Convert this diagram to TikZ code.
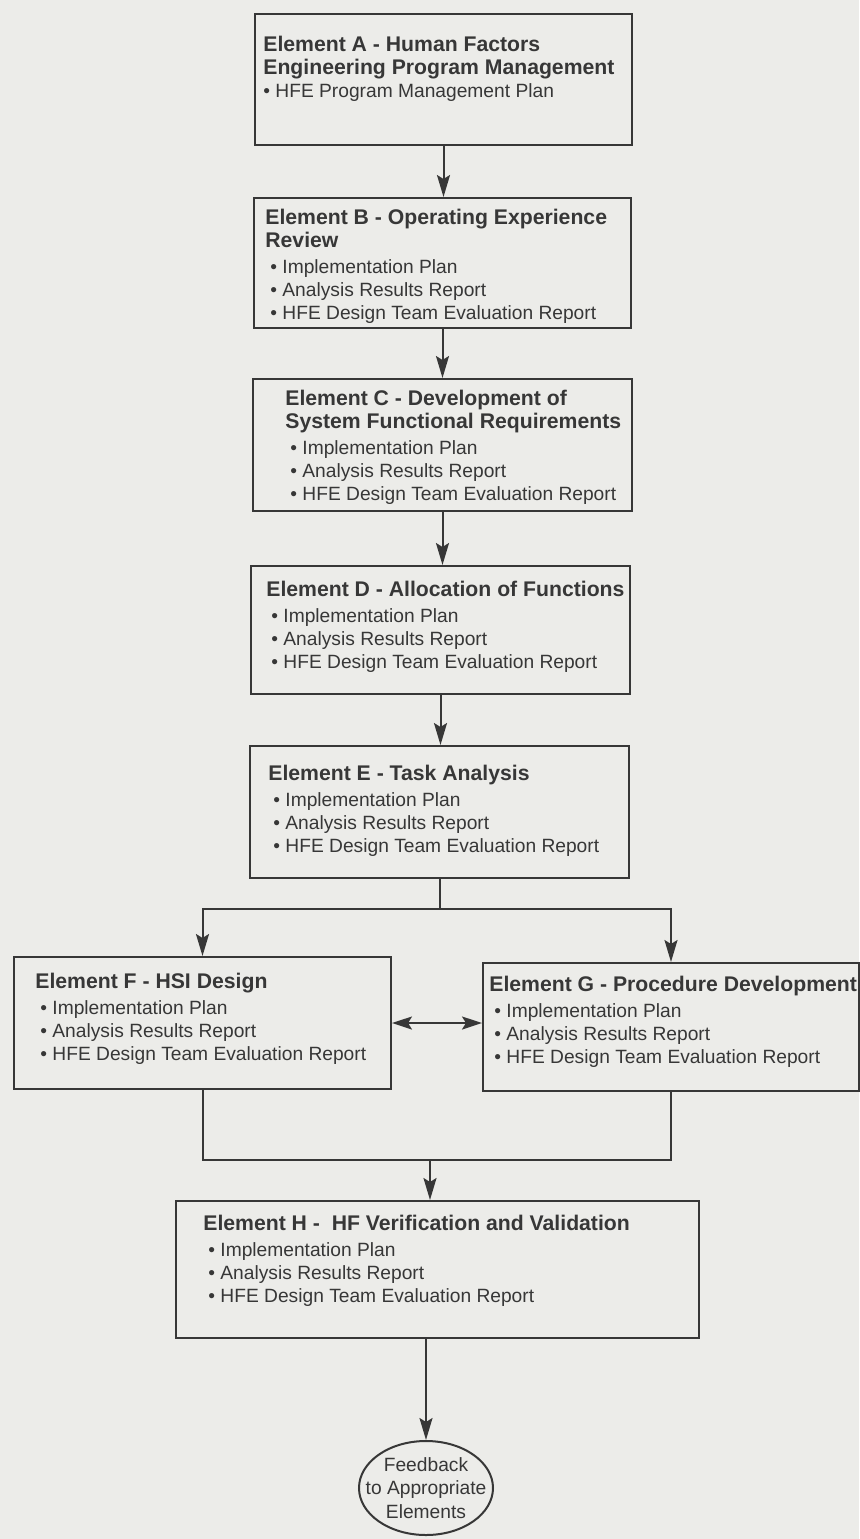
\documentclass[tikz,border=0pt]{standalone}
\usepackage{fontspec}
\setmainfont{Liberation Sans}
\usetikzlibrary{arrows.meta,shapes.geometric}
\definecolor{scan}{RGB}{236,236,233}
\definecolor{ink}{RGB}{55,55,55}
\tikzset{
  box/.style={draw=ink, line width=1pt, anchor=north west, inner sep=0pt},
  txt/.style={anchor=north west, align=left, inner sep=0pt, text=ink, font=\fontsize{9.6}{11.5}\selectfont},
  line/.style={draw=ink, line width=1pt},
  arr/.style={line, -{Stealth[length=11pt,width=6.5pt,inset=2pt]}},
  dbl/.style={line, {Stealth[length=10pt,width=6.5pt,inset=2pt]}-{Stealth[length=10pt,width=6.5pt,inset=2pt]}},
  fback/.style={ellipse, draw=ink, line width=1pt, text=ink, align=center, minimum width=67pt, minimum height=47pt, inner xsep=-12pt, inner ysep=-4pt, font=\fontsize{9.6}{11.75}\selectfont}
}
\newcommand\hd[1]{{\fontsize{10.6}{11.5}\selectfont\bfseries #1}}
\newcommand\itm{\hspace*{2.5pt}\textbullet\ }
\begin{document}
\begin{tikzpicture}[x=0.5pt,y=-0.5pt]
    \path[fill=scan, use as bounding box] (0,0) rectangle (859,1539);

    \node[box, minimum width=188.5pt, minimum height=65.5pt] (A) at (254,13) {};
    \node[box, minimum width=188.5pt, minimum height=65pt] (B) at (253,197) {};
    \node[box, minimum width=189.5pt, minimum height=66pt] (C) at (252,378) {};
    \node[box, minimum width=189.5pt, minimum height=64pt] (D) at (250,565) {};
    \node[box, minimum width=189.5pt, minimum height=66pt] (E) at (249,745) {};
    \node[box, minimum width=188.5pt, minimum height=66pt] (F) at (13,956) {};
    \node[box, minimum width=188pt, minimum height=64pt] (G) at (482,962) {};
    \node[box, minimum width=261.5pt, minimum height=68.5pt] (H) at (175,1200) {};
    \node[fback] (fb) at (426,1488) {Feedback\\ to Appropriate\\ Elements};

    \node[txt] (A-t) at (263,35.5) {\hd{Element A - Human Factors}\\ \hd{Engineering Program Management}\\ \textbullet\ HFE Program Management Plan};
    \node[txt] (B-t) at (265,208.5) {\hd{Element B - Operating Experience}\\ \hd{Review}\\[1.5pt] \itm Implementation Plan\\ \itm Analysis Results Report\\ \itm HFE Design Team Evaluation Report};
    \node[txt] (C-t) at (285,389.5) {\hd{Element C - Development of}\\ \hd{System Functional Requirements}\\[1.5pt] \itm Implementation Plan\\ \itm Analysis Results Report\\ \itm HFE Design Team Evaluation Report};
    \node[txt] (D-t) at (266,580.5) {\hd{Element D - Allocation of Functions}\\[1.5pt] \itm Implementation Plan\\ \itm Analysis Results Report\\ \itm HFE Design Team Evaluation Report};
    \node[txt] (E-t) at (268,764.5) {\hd{Element E - Task Analysis}\\[1.5pt] \itm Implementation Plan\\ \itm Analysis Results Report\\ \itm HFE Design Team Evaluation Report};
    \node[txt] (F-t) at (35,972.5) {\hd{Element F - HSI Design}\\[1.5pt] \itm Implementation Plan\\ \itm Analysis Results Report\\ \itm HFE Design Team Evaluation Report};
    \node[txt] (G-t) at (489,975.5) {\hd{Element G - Procedure Development}\\[1.5pt] \itm Implementation Plan\\ \itm Analysis Results Report\\ \itm HFE Design Team Evaluation Report};
    \node[txt] (H-t) at (203,1214.5) {\hd{Element H -\ \ HF Verification and Validation}\\[1.5pt] \itm Implementation Plan\\ \itm Analysis Results Report\\ \itm HFE Design Team Evaluation Report};

    \draw[arr] (A.south) -- (A.south |- B.north);
    \draw[arr] (B.south) -- (B.south |- C.north);
    \draw[arr] (C.south) -- (C.south |- D.north);
    \draw[arr] (D.south) -- (D.south |- E.north);

    \path (E.south) ++(0,30) coordinate (split);
    \draw[line] (E.south) -- (split);
    \draw[arr] (split) -| (F.north);
    \draw[arr] (split) -| (G.north);
    \draw[dbl] (F.east) -- (F.east -| G.west);

    \coordinate (merge) at (430,1160);
    \draw[line] (F.south) |- (merge) -| (G.south);
    \draw[arr] (merge) -- (merge |- H.north);
    \draw[arr] (fb.north |- H.south) -- (fb.north);
\end{tikzpicture}
\end{document}
